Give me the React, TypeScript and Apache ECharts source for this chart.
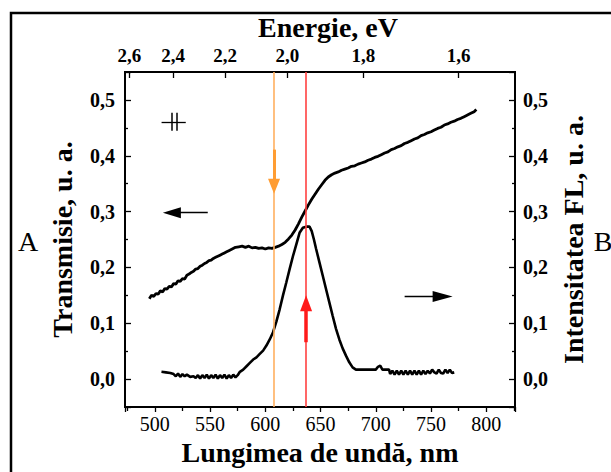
import React, { useEffect, useRef } from 'react';
import * as echarts from 'echarts';

// Transmission (left axis): [wavelength nm, value u.a.]
const transmission: [number, number][] = [
  [495, 0.144], [497, 0.150], [499, 0.148], [501, 0.153], [503, 0.152], [505, 0.158], [507, 0.156],
  [509, 0.162], [511, 0.161], [513, 0.166], [515, 0.165], [517, 0.171], [519, 0.170], [521, 0.176],
  [523, 0.175], [525, 0.180], [527, 0.179], [529, 0.186], [531, 0.188], [533, 0.191], [535, 0.193],
  [537, 0.197], [539, 0.198], [541, 0.202], [543, 0.204], [545, 0.207], [547, 0.209], [549, 0.212],
  [551, 0.213], [553, 0.216], [555, 0.218], [557, 0.220], [559, 0.222], [561, 0.224], [563, 0.226],
  [565, 0.228], [567, 0.230], [570, 0.233], [573, 0.236], [576, 0.237], [579, 0.238], [582, 0.236],
  [585, 0.238], [588, 0.235], [591, 0.236], [594, 0.234], [597, 0.235], [600, 0.233], [603, 0.235],
  [606, 0.234], [609, 0.236], [612, 0.238], [615, 0.241], [618, 0.245], [621, 0.251], [624, 0.258],
  [627, 0.267], [630, 0.278], [633, 0.290], [636, 0.301], [639, 0.312], [642, 0.322], [645, 0.331],
  [648, 0.340], [651, 0.348], [654, 0.356], [657, 0.362], [660, 0.366], [663, 0.369], [666, 0.371],
  [669, 0.374], [672, 0.376], [675, 0.378], [678, 0.381], [681, 0.382], [684, 0.385], [687, 0.387],
  [690, 0.389], [693, 0.392], [696, 0.394], [699, 0.397], [702, 0.399], [705, 0.402], [708, 0.405],
  [711, 0.407], [714, 0.411], [717, 0.413], [720, 0.416], [723, 0.418], [726, 0.422], [729, 0.424],
  [732, 0.427], [735, 0.430], [738, 0.432], [741, 0.436], [744, 0.438], [747, 0.441], [750, 0.443],
  [753, 0.446], [756, 0.449], [759, 0.451], [762, 0.455], [765, 0.457], [768, 0.460], [771, 0.462],
  [774, 0.465], [777, 0.467], [780, 0.470], [783, 0.473], [786, 0.476], [789, 0.479], [791, 0.483],
];

// Fluorescence intensity (right axis): [wavelength nm, value u.a.]
const fluorescence: [number, number][] = [
  [506, 0.013], [510, 0.012], [514, 0.011], [517, 0.009], [519, 0.005], [521, 0.010], [523, 0.004],
  [525, 0.009], [527, 0.005], [529, 0.008], [532, 0.004], [535, 0.005], [537, 0.002], [539, 0.007],
  [541, 0.001], [543, 0.007], [545, 0.002], [547, 0.008], [549, 0.001], [551, 0.007], [553, 0.002],
  [555, 0.008], [557, 0.001], [559, 0.007], [561, 0.002], [563, 0.008], [565, 0.001], [567, 0.007],
  [569, 0.002], [571, 0.008], [573, 0.003], [575, 0.007], [577, 0.013], [580, 0.017], [583, 0.023],
  [586, 0.029], [589, 0.035], [592, 0.039], [595, 0.045], [598, 0.051], [601, 0.060], [604, 0.071],
  [607, 0.084], [610, 0.103], [613, 0.125], [616, 0.150], [619, 0.173], [622, 0.197], [625, 0.220],
  [628, 0.241], [631, 0.262], [634, 0.271], [637, 0.273], [640, 0.273], [642, 0.265], [644, 0.250],
  [646, 0.233], [649, 0.209], [652, 0.185], [655, 0.161], [658, 0.137], [661, 0.113], [664, 0.090],
  [667, 0.071], [670, 0.055], [673, 0.042], [676, 0.030], [679, 0.021], [682, 0.017], [690, 0.017],
  [700, 0.017], [702, 0.022], [704, 0.024], [706, 0.017], [712, 0.017], [713, 0.009], [715, 0.015],
  [717, 0.008], [719, 0.015], [721, 0.008], [723, 0.015], [725, 0.008], [727, 0.015], [729, 0.008],
  [731, 0.015], [733, 0.008], [735, 0.015], [737, 0.008], [739, 0.015], [741, 0.008], [743, 0.015],
  [745, 0.009], [747, 0.015], [749, 0.010], [751, 0.017], [753, 0.012], [755, 0.010], [757, 0.017],
  [759, 0.011], [761, 0.010], [763, 0.017], [765, 0.011], [767, 0.017], [769, 0.011], [771, 0.012],
];

// Top axis tick energies (eV)
const energyTicks = [2.6, 2.4, 2.2, 2.0, 1.8, 1.6];
const HC = 1239.84; // nm·eV

// Vertical marker lines (nm): excitation (orange) and emission peak (red)
const markerWavelengths = [607.9, 636.9];

// Annotation arrows in data coordinates: [start, arrow-head centre]
const leftArrow: [number, number][] = [[547.9, 0.298], [515.4, 0.298]];
const rightArrow: [number, number][] = [[726.1, 0.148], [760.5, 0.148]];
const orangeArrow: [number, number][] = [[607.9, 0.411], [607.9, 0.3455]];
const redArrow: [number, number][] = [[636.9, 0.066], [636.9, 0.1357]];
// Polarisation symbol (parallel bars crossing a line)
const polarLine: [number, number][] = [[506.1, 0.4607], [528.0, 0.4607]];
const polarBars = [515.1, 519.6];
const polarBarRange = [0.4446, 0.4768];

const FONT = "'Liberation Serif', 'Times New Roman', serif";

function fmtComma1(v: number) {
  return v.toFixed(1).replace('.', ',');
}

export default function App() {
  const ref = useRef<HTMLDivElement>(null);

  useEffect(() => {
    if (!ref.current) return;
    const chart = echarts.init(ref.current, undefined, { renderer: 'svg' });

    const yLabelFmt = (v: number) => {
      const r = Math.round(v * 10);
      return Math.abs(v * 10 - r) < 1e-6 ? fmtComma1(r / 10) : '';
    };

    const segment = (
      pts: [number, number][],
      color: string,
      width: number,
      head: number[] | null
    ) => [
      { coord: pts[0], symbol: 'none', lineStyle: { color, width, type: 'solid' } },
      head
        ? { coord: pts[1], symbol: 'triangle', symbolSize: head }
        : { coord: pts[1], symbol: 'none' },
    ];

    const spine = { show: true, onZero: false, lineStyle: { color: '#000', width: 2 } };

    const yAxisCommon = {
      type: 'value',
      min: -0.05,
      max: 0.55,
      axisLine: spine,
      axisTick: { show: true, inside: true, length: 6, lineStyle: { color: '#000', width: 1.3 } },
      minorTick: { show: true, splitNumber: 2, length: 3, lineStyle: { color: '#000', width: 1.3 } },
      splitLine: { show: false },
      nameLocation: 'middle',
      nameTextStyle: { fontFamily: FONT, fontWeight: 'bold', fontSize: 28, color: '#000' },
    };

    const option: any = {
      animation: false,
      backgroundColor: '#fff',
      grid: {
        left: 125,
        right: 96,
        top: 72,
        bottom: 65,
        containLabel: false,
        outerBoundsMode: 'none',
        show: true,
        borderColor: '#000',
        borderWidth: 2,
        backgroundColor: 'transparent',
      },
      xAxis: [
        {
          type: 'value',
          position: 'bottom',
          min: 473,
          max: 826,
          splitNumber: 7,
          name: 'Lungimea de undă, nm',
          nameLocation: 'middle',
          nameGap: 30,
          nameTextStyle: { fontFamily: FONT, fontWeight: 'bold', fontSize: 28, color: '#000' },
          axisLine: spine,
          axisTick: { show: true, inside: false, length: 5, lineStyle: { color: '#000', width: 1.3 } },
          minorTick: { show: true, splitNumber: 2, length: 4, lineStyle: { color: '#000', width: 1.3 } },
          splitLine: { show: false },
          axisLabel: {
            margin: 7,
            fontFamily: FONT,
            fontSize: 20,
            color: '#000',
            formatter: (v: number) => (Math.abs(v % 50) < 1e-6 ? String(v) : ''),
          },
        },
        {
          type: 'value',
          position: 'top',
          min: 473,
          max: 826,
          name: 'Energie, eV',
          nameLocation: 'middle',
          nameGap: 29,
          nameTextStyle: { fontFamily: FONT, fontWeight: 'bold', fontSize: 28, color: '#000', padding: [0, 0, 0, 16] },
          axisLine: spine,
          axisTick: {
            show: true,
            inside: true,
            length: 6,
            lineStyle: { color: '#000', width: 1.3 },
            customValues: energyTicks.map((e) => HC / e),
          },
          axisLabel: {
            margin: 7,
            fontFamily: FONT,
            fontWeight: 'bold',
            fontSize: 19,
            color: '#000',
            customValues: energyTicks.map((e) => HC / e),
            formatter: (v: number) => fmtComma1(HC / v),
          },
          splitLine: { show: false },
        },
      ],
      yAxis: [
        {
          ...yAxisCommon,
          position: 'left',
          name: 'Transmisie, u. a.',
          nameGap: 49,
          axisLabel: {
            margin: 10,
            fontFamily: FONT,
            fontWeight: 'bold',
            fontSize: 20,
            color: '#000',
            formatter: yLabelFmt,
          },
        },
        {
          ...yAxisCommon,
          position: 'right',
          name: 'Intensitatea FL, u. a.',
          nameGap: 44,
          nameRotate: 90,
          axisLabel: {
            margin: 8,
            fontFamily: FONT,
            fontWeight: 'bold',
            fontSize: 20,
            color: '#000',
            formatter: yLabelFmt,
          },
        },
      ],
      series: [
        {
          name: 'Transmisie',
          type: 'line',
          xAxisIndex: 0,
          yAxisIndex: 0,
          data: transmission,
          showSymbol: false,
          lineStyle: { color: '#000', width: 2.8 },
          itemStyle: { color: '#000' },
          z: 3,
        },
        {
          name: 'Intensitatea FL',
          type: 'line',
          xAxisIndex: 0,
          yAxisIndex: 1,
          data: fluorescence,
          showSymbol: false,
          lineStyle: { color: '#000', width: 2.6 },
          itemStyle: { color: '#000' },
          z: 3,
          markLine: {
            silent: true,
            symbol: ['none', 'none'],
            label: { show: false },
            emphasis: { disabled: true },
            data: [
              { xAxis: markerWavelengths[0], lineStyle: { color: '#FFB060', width: 1.6, type: 'solid' } },
              { xAxis: markerWavelengths[1], lineStyle: { color: '#FF4040', width: 1.6, type: 'solid' } },
              segment(leftArrow, '#000', 1.3, [11, 18]),
              segment(rightArrow, '#000', 1.3, [11, 20]),
              segment(orangeArrow, '#FF9D33', 3, [12, 15]),
              segment(redArrow, '#FF1A1A', 3.5, [12, 16]),
              segment(polarLine, '#000', 1.3, null),
              segment([[polarBars[0], polarBarRange[0]], [polarBars[0], polarBarRange[1]]], '#000', 1.5, null),
              segment([[polarBars[1], polarBarRange[0]], [polarBars[1], polarBarRange[1]]], '#000', 1.5, null),
            ],
          },
        },
      ],
      graphic: [
        {
          type: 'rect',
          shape: { x: 11, y: 13, width: 640, height: 500 },
          style: { fill: 'none', stroke: '#000', lineWidth: 2.5 },
          silent: true,
        },
        {
          type: 'text',
          x: 28,
          y: 241,
          style: {
            text: 'A',
            font: `28px ${FONT}`,
            fill: '#000',
            align: 'center',
            verticalAlign: 'middle',
          },
        },
        {
          type: 'text',
          x: 603,
          y: 241,
          style: {
            text: 'B',
            font: `28px ${FONT}`,
            fill: '#000',
            align: 'center',
            verticalAlign: 'middle',
          },
        },
      ],
    };

    chart.setOption(option);
    return () => chart.dispose();
  }, []);

  return (
    <div
      ref={ref}
      style={{ position: 'fixed', left: 0, top: 0, width: 611, height: 472, background: '#fff' }}
    />
  );
}
